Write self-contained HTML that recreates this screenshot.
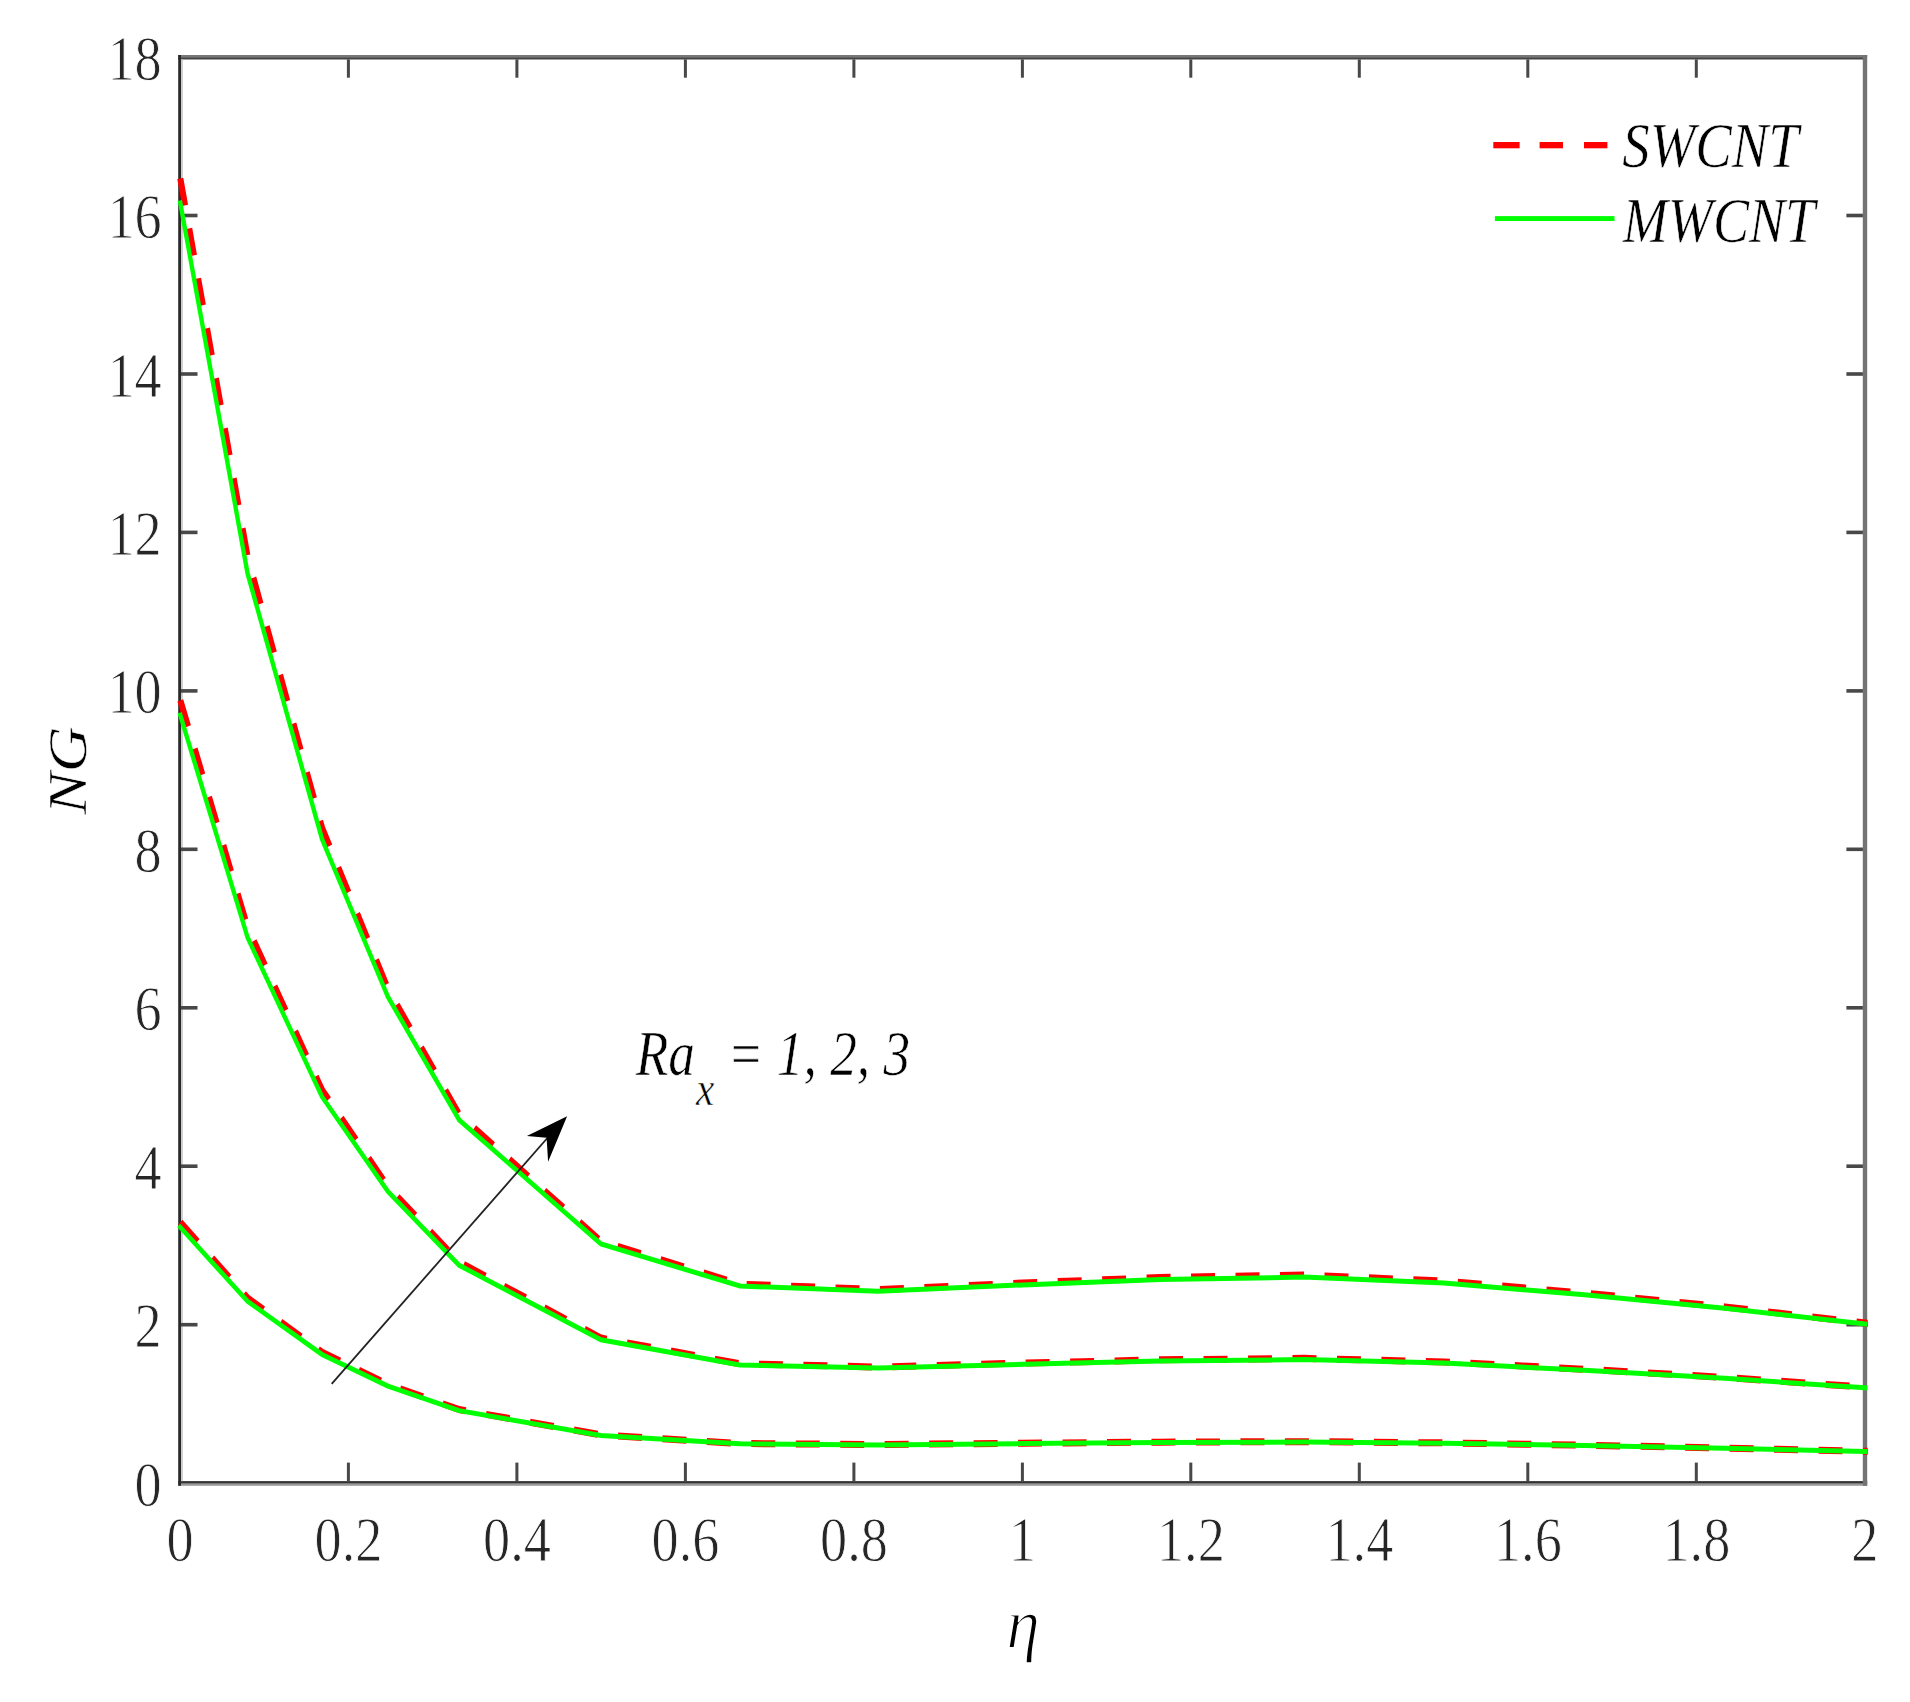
<!DOCTYPE html>
<html lang="en"><head><meta charset="utf-8"><title>NG versus eta</title>
<style>
html,body{margin:0;padding:0;background:#fff;}
body{width:1910px;height:1702px;overflow:hidden;}
svg{display:block;}
text{font-family:"Liberation Serif","Times New Roman",serif;stroke:#fff;stroke-linejoin:round;}
.tk{fill:#262626;font-size:63.5px;stroke-width:0.9px;}
.it{font-style:italic;fill:#000;font-size:63.5px;stroke-width:0.6px;}
</style></head><body>
<svg width="1910" height="1702" viewBox="0 0 1910 1702">
<rect x="0" y="0" width="1910" height="1702" fill="#ffffff"/>

<g id="axes">
<rect x="178.2" y="55.0" width="1689" height="2.2" fill="#777"/>
<rect x="178.2" y="57.2" width="1686" height="2.3" fill="#444"/>
<rect x="178.2" y="1481.1" width="1689" height="2.6" fill="#333"/>
<rect x="178.2" y="1483.7" width="1689" height="2.1" fill="#999"/>
<rect x="178.2" y="55" width="2.8" height="1430.8" fill="#2a2a2a"/>
<rect x="181.0" y="59.5" width="1.9" height="1421.6" fill="#ccc"/>
<rect x="1862.8" y="55" width="4.4" height="1430.8" fill="#737373"/>
</g>
<g id="ticks" fill="#484848">
<rect x="346.9" y="1462.6" width="3.0" height="18.6"/>
<rect x="346.9" y="59.4" width="3.0" height="18.3"/>
<rect x="515.4" y="1462.6" width="3.0" height="18.6"/>
<rect x="515.4" y="59.4" width="3.0" height="18.3"/>
<rect x="683.9" y="1462.6" width="3.0" height="18.6"/>
<rect x="683.9" y="59.4" width="3.0" height="18.3"/>
<rect x="852.4" y="1462.6" width="3.0" height="18.6"/>
<rect x="852.4" y="59.4" width="3.0" height="18.3"/>
<rect x="1020.9" y="1462.6" width="3.0" height="18.6"/>
<rect x="1020.9" y="59.4" width="3.0" height="18.3"/>
<rect x="1189.3" y="1462.6" width="3.0" height="18.6"/>
<rect x="1189.3" y="59.4" width="3.0" height="18.3"/>
<rect x="1357.8" y="1462.6" width="3.0" height="18.6"/>
<rect x="1357.8" y="59.4" width="3.0" height="18.3"/>
<rect x="1526.3" y="1462.6" width="3.0" height="18.6"/>
<rect x="1526.3" y="59.4" width="3.0" height="18.3"/>
<rect x="1694.8" y="1462.6" width="3.0" height="18.6"/>
<rect x="1694.8" y="59.4" width="3.0" height="18.3"/>
<rect x="181.0" y="1322.9" width="16.5" height="3.6"/>
<rect x="1846.4" y="1322.9" width="16.5" height="3.6"/>
<rect x="181.0" y="1164.4" width="16.5" height="3.6"/>
<rect x="1846.4" y="1164.4" width="16.5" height="3.6"/>
<rect x="181.0" y="1006.0" width="16.5" height="3.6"/>
<rect x="1846.4" y="1006.0" width="16.5" height="3.6"/>
<rect x="181.0" y="847.5" width="16.5" height="3.6"/>
<rect x="1846.4" y="847.5" width="16.5" height="3.6"/>
<rect x="181.0" y="689.1" width="16.5" height="3.6"/>
<rect x="1846.4" y="689.1" width="16.5" height="3.6"/>
<rect x="181.0" y="530.6" width="16.5" height="3.6"/>
<rect x="1846.4" y="530.6" width="16.5" height="3.6"/>
<rect x="181.0" y="372.2" width="16.5" height="3.6"/>
<rect x="1846.4" y="372.2" width="16.5" height="3.6"/>
<rect x="181.0" y="213.7" width="16.5" height="3.6"/>
<rect x="1846.4" y="213.7" width="16.5" height="3.6"/>
</g>
<g id="curves" transform="scale(0.8720 1)" fill="none" stroke-linejoin="miter" stroke-linecap="butt">
<clipPath id="cp"><rect x="200.69" y="50" width="1941.17" height="1440"/></clipPath>
<g clip-path="url(#cp)">
<polyline points="206.77,1222.32 283.94,1298.00 369.27,1352.19 444.95,1384.46 526.61,1409.57 689.22,1434.89 848.62,1443.47 1006.88,1444.55 1172.71,1443.25 1330.28,1442.14 1494.95,1441.65 1655.96,1442.86 1816.97,1445.27 1977.98,1448.02 2138.99,1451.25 2142.49,1451.32" stroke="#ff0000" stroke-width="7" stroke-dasharray="27.5 23.5"/>
<polyline points="206.77,700.37 283.94,927.40 369.27,1089.98 444.95,1186.77 526.61,1262.12 689.22,1338.08 848.62,1363.81 1006.88,1367.06 1172.71,1363.14 1330.28,1359.83 1494.95,1358.36 1655.96,1361.97 1816.97,1369.20 1977.98,1377.47 2138.99,1387.15 2142.48,1387.36" stroke="#ff0000" stroke-width="7" stroke-dasharray="27.5 23.5"/>
<polyline points="206.77,178.41 283.94,556.79 369.27,827.77 444.95,989.09 526.61,1114.67 689.22,1241.27 848.62,1284.15 1006.88,1289.57 1172.71,1283.03 1330.28,1277.52 1494.95,1275.07 1655.96,1281.09 1816.97,1293.14 1977.98,1306.92 2138.99,1323.05 2142.47,1323.40" stroke="#ff0000" stroke-width="7" stroke-dasharray="27.5 23.5"/>
<polyline points="204.96,1225.51 206.77,1227.24 283.94,1301.36 369.27,1354.44 444.95,1386.04 526.61,1410.64 689.22,1435.44 848.62,1443.84 1006.88,1444.90 1172.71,1443.62 1330.28,1442.54 1494.95,1442.06 1655.96,1443.24 1816.97,1445.60 1977.98,1448.30 2138.99,1451.46 2141.49,1451.51" stroke="#00ff00" stroke-width="5"/>
<polyline points="205.95,712.76 206.77,715.12 283.94,937.48 369.27,1096.72 444.95,1191.52 526.61,1265.32 689.22,1339.72 848.62,1364.92 1006.88,1368.10 1172.71,1364.26 1330.28,1361.02 1494.95,1359.58 1655.96,1363.12 1816.97,1370.20 1977.98,1378.30 2138.99,1387.78 2141.49,1387.93" stroke="#00ff00" stroke-width="5"/>
<polyline points="206.26,200.55 206.77,203.00 283.94,573.60 369.27,839.00 444.95,997.00 526.61,1120.00 689.22,1244.00 848.62,1286.00 1006.88,1291.30 1172.71,1284.90 1330.28,1279.50 1494.95,1277.10 1655.96,1283.00 1816.97,1294.80 1977.98,1308.30 2138.99,1324.10 2141.48,1324.34" stroke="#00ff00" stroke-width="5"/>
</g></g>
<g id="legend">
<rect x="1493.3" y="142" width="26.3" height="6.3" fill="#ff0000"/>
<rect x="1539.6" y="142" width="23.4" height="6.3" fill="#ff0000"/>
<rect x="1584.0" y="142" width="23.4" height="6.3" fill="#ff0000"/>
<rect x="1494.9" y="216.1" width="119.6" height="4.9" fill="#00ff00"/>
<text class="it" transform="translate(1622.3 167.3) scale(0.862 1)">SWCNT</text>
<text class="it" transform="translate(1622.8 241.5) scale(0.852 1)">MWCNT</text>
</g>
<line x1="331.7" y1="1383.9" x2="550" y2="1135" stroke="#222" stroke-width="1.8"/>
<polygon points="567.1,1116.2 526.9,1135.9 546.6,1137.7 548.1,1161.7" fill="#000"/>
<text class="it" transform="translate(635.8 1075.4) scale(0.84 1)">Ra<tspan font-size="49px" dy="30" dx="1">x</tspan><tspan dy="-30"> = 1, 2, 3</tspan></text>
<text class="tk" text-anchor="middle" transform="translate(180.0 1560.8) scale(0.855 1)">0</text>
<text class="tk" text-anchor="middle" transform="translate(348.5 1560.8) scale(0.855 1)">0.2</text>
<text class="tk" text-anchor="middle" transform="translate(517.0 1560.8) scale(0.855 1)">0.4</text>
<text class="tk" text-anchor="middle" transform="translate(685.5 1560.8) scale(0.855 1)">0.6</text>
<text class="tk" text-anchor="middle" transform="translate(854.0 1560.8) scale(0.855 1)">0.8</text>
<text class="tk" text-anchor="middle" transform="translate(1022.5 1560.8) scale(0.855 1)">1</text>
<text class="tk" text-anchor="middle" transform="translate(1190.9 1560.8) scale(0.855 1)">1.2</text>
<text class="tk" text-anchor="middle" transform="translate(1359.4 1560.8) scale(0.855 1)">1.4</text>
<text class="tk" text-anchor="middle" transform="translate(1527.9 1560.8) scale(0.855 1)">1.6</text>
<text class="tk" text-anchor="middle" transform="translate(1696.4 1560.8) scale(0.855 1)">1.8</text>
<text class="tk" text-anchor="middle" transform="translate(1864.9 1560.8) scale(0.855 1)">2</text>
<text class="tk" text-anchor="end" transform="translate(161.7 1505.6) scale(0.855 1)">0</text>
<text class="tk" text-anchor="end" transform="translate(161.7 1347.2) scale(0.855 1)">2</text>
<text class="tk" text-anchor="end" transform="translate(161.7 1188.7) scale(0.855 1)">4</text>
<text class="tk" text-anchor="end" transform="translate(161.7 1030.3) scale(0.855 1)">6</text>
<text class="tk" text-anchor="end" transform="translate(161.7 871.8) scale(0.855 1)">8</text>
<text class="tk" text-anchor="end" transform="translate(161.7 713.4) scale(0.855 1)">10</text>
<text class="tk" text-anchor="end" transform="translate(161.7 554.9) scale(0.855 1)">12</text>
<text class="tk" text-anchor="end" transform="translate(161.7 396.5) scale(0.855 1)">14</text>
<text class="tk" text-anchor="end" transform="translate(161.7 238.0) scale(0.855 1)">16</text>
<text class="tk" text-anchor="end" transform="translate(161.7 79.6) scale(0.855 1)">18</text>
<text class="it" text-anchor="middle" style="font-size:72px;stroke-width:1.5px" transform="translate(1023 1647.6) scale(0.93 1)">η</text>
<text class="it" text-anchor="middle" transform="translate(86 770.5) scale(0.86 1) rotate(-90)">NG</text>
</svg></body></html>
